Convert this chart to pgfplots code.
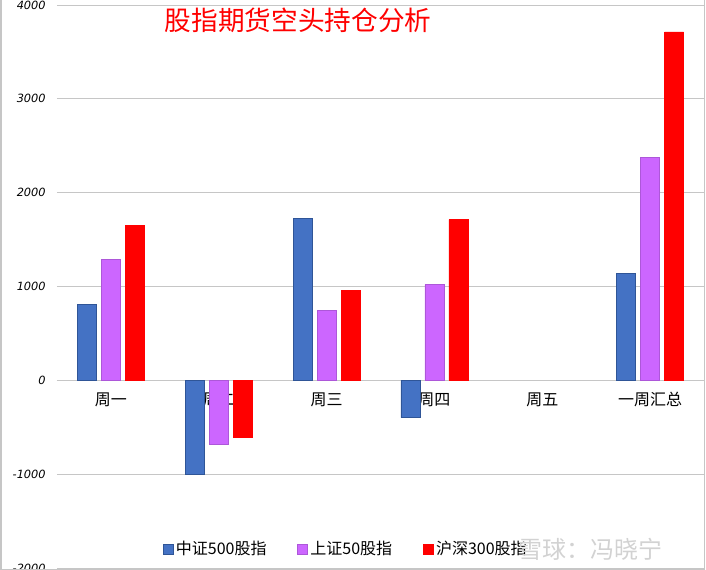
\documentclass[border=0pt]{standalone}
\usepackage{pgfplots}
\pgfplotsset{compat=1.18}
\usepackage{fontspec}
\setmainfont{DejaVu Sans}
\newfontfamily\cjk{Noto Sans CJK SC}
\definecolor{cblue}{HTML}{4472C4}
\definecolor{cblueedge}{HTML}{2F5597}
\definecolor{cpurple}{HTML}{CC66FF}
\definecolor{cred}{HTML}{FF0000}
\begin{document}
\begin{tikzpicture}
\useasboundingbox (-42.75pt,-1.5pt) rectangle (486.75pt,426pt);
\begin{axis}[
  at={(0,0)}, anchor=south west,
  scale only axis, width=485.25pt, height=422.25pt,
  xmin=-0.5, xmax=5.5, ymin=-2000, ymax=4000,
  axis x line=middle, axis y line=left,
  axis line style={-, draw=gray!45},
  y axis line style={draw=none},
  ytick={-2000,-1000,0,1000,2000,3000,4000},
  xtick={0,1,2,3,4,5},
  xticklabels={周一,周二,周三,周四,周五,一周汇总},
  xticklabel style={font=\cjk\fontsize{12}{14}\selectfont, yshift=-5.5pt},
  yticklabel style={font=\itshape\fontsize{8.5}{9}\selectfont, xshift=-5pt},
  /pgf/number format/assume math mode=true,
  /pgf/number format/1000 sep={},
  major tick length=0pt,
  ymajorgrids, grid style={gray!45, line width=0.6pt},
  ybar=3.75pt, bar width=14.25pt,
  legend style={at={(0.4467,0.0337)}, anchor=center, draw=none, fill=none,
    legend columns=3, font=\cjk\fontsize{12}{13}\selectfont,
    /tikz/every even column/.append style={column sep=21pt}},
  legend image code/.code={\fill[#1] (0pt,-3.75pt) rectangle (7.5pt,3.75pt);},
]
\addplot[fill=cblue, draw=cblueedge] coordinates {(0,810) (1,-1003) (2,1723) (3,-398) (5,1138)};
\addplot[fill=cpurple, draw=cpurple!85!black] coordinates {(0,1287) (1,-680) (2,745) (3,1021) (5,2372)};
\addplot[fill=cred, draw=cred] coordinates {(0,1649) (1,-608) (2,957) (3,1713) (5,3713)};
\legend{中证500股指,上证50股指,沪深300股指}
\end{axis}
\draw[gray!45, line width=0.8pt] (-42pt,426pt) -- (-42pt,-1.1pt) -- (485.9pt,-1.1pt) -- (485.9pt,426pt);
\node[text=cred, font=\cjk\fontsize{20}{22}\selectfont] at (180.75pt,411pt) {股指期货空头持仓分析};
\node[text=gray!35, font=\cjk\fontsize{18}{20}\selectfont] at (400pt,14.25pt) {雪球：冯晓宁};
\end{tikzpicture}
\end{document}
